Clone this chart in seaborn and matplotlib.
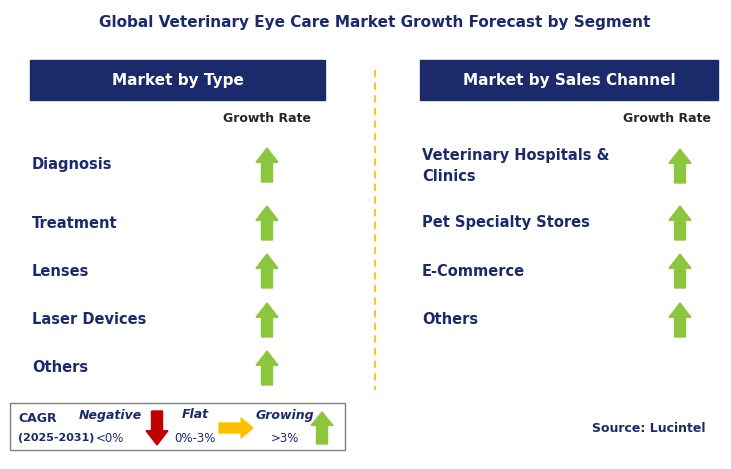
import matplotlib.pyplot as plt
import matplotlib.patches as patches
import seaborn as sns

sns.set_style("white")

NAVY = "#1b2a6b"
GREEN = "#8cc63f"
RED = "#c00000"
YELLOW = "#ffc000"

title = "Global Veterinary Eye Care Market Growth Forecast by Segment"
type_labels = ["Diagnosis", "Treatment", "Lenses", "Laser Devices", "Others"]
type_growth = ["up", "up", "up", "up", "up"]
channel_labels = ["Veterinary Hospitals &\nClinics", "Pet Specialty Stores", "E-Commerce", "Others"]
channel_growth = ["up", "up", "up", "up"]
type_rows = [165, 223, 271, 320, 368]
channel_rows = [166, 223, 271, 320]


def up_arrow(ax, cx, cy, color, w=22, h=34):
    hw, sw = w / 2, w / 4
    pts = [(cx, cy - h / 2), (cx + hw, cy - h / 2 + h * 0.42), (cx + sw, cy - h / 2 + h * 0.42),
           (cx + sw, cy + h / 2), (cx - sw, cy + h / 2), (cx - sw, cy - h / 2 + h * 0.42),
           (cx - hw, cy - h / 2 + h * 0.42)]
    ax.add_patch(patches.Polygon(pts, closed=True, color=color))


def down_arrow(ax, cx, cy, color, w=22, h=34):
    hw, sw = w / 2, w / 4
    pts = [(cx, cy + h / 2), (cx + hw, cy + h / 2 - h * 0.42), (cx + sw, cy + h / 2 - h * 0.42),
           (cx + sw, cy - h / 2), (cx - sw, cy - h / 2), (cx - sw, cy + h / 2 - h * 0.42),
           (cx - hw, cy + h / 2 - h * 0.42)]
    ax.add_patch(patches.Polygon(pts, closed=True, color=color))


def right_arrow(ax, cx, cy, color, w=34, h=20):
    hh, sh = h / 2, h / 4
    pts = [(cx + w / 2, cy), (cx + w / 2 - w * 0.35, cy - hh), (cx + w / 2 - w * 0.35, cy - sh),
           (cx - w / 2, cy - sh), (cx - w / 2, cy + sh), (cx + w / 2 - w * 0.35, cy + sh),
           (cx + w / 2 - w * 0.35, cy + hh)]
    ax.add_patch(patches.Polygon(pts, closed=True, color=color))


fig = plt.figure(figsize=(7.31, 4.69), dpi=100)
ax = fig.add_axes([0, 0, 1, 1])
ax.set_xlim(0, 731)
ax.set_ylim(469, 0)
ax.axis("off")

ax.text(375, 22, title, ha="center", va="center", fontsize=11, fontweight="bold", color=NAVY)

# headers
for x0, x1, label in [(30, 325, "Market by Type"), (420, 718, "Market by Sales Channel")]:
    ax.add_patch(patches.Rectangle((x0, 60), x1 - x0, 40, color=NAVY))
    ax.text((x0 + x1) / 2, 80, label, ha="center", va="center", fontsize=11,
            fontweight="bold", color="white")

ax.plot([375, 375], [70, 390], ls=(0, (4, 3)), color=YELLOW, lw=1.3)

ax.text(267, 118, "Growth Rate", ha="center", va="center", fontsize=9, fontweight="bold")
ax.text(667, 118, "Growth Rate", ha="center", va="center", fontsize=9, fontweight="bold")

for label, g, y in zip(type_labels, type_growth, type_rows):
    ax.text(32, y, label, ha="left", va="center", fontsize=10.5, fontweight="bold", color=NAVY)
    up_arrow(ax, 267, y, GREEN)

for label, g, y in zip(channel_labels, channel_growth, channel_rows):
    ax.text(422, y, label, ha="left", va="center", fontsize=10.5, fontweight="bold",
            color=NAVY, linespacing=1.5)
    up_arrow(ax, 680, y, GREEN)

# legend box
ax.add_patch(patches.Rectangle((10, 403), 335, 47, fill=False, ec="#7f7f7f", lw=1))
ax.text(18, 418, "CAGR", fontsize=9, fontweight="bold", color=NAVY, va="center")
ax.text(18, 438, "(2025-2031)", fontsize=8, fontweight="bold", color=NAVY, va="center")
ax.text(110, 415, "Negative", fontsize=9, fontweight="bold", style="italic", color=NAVY, ha="center", va="center")
ax.text(110, 438, "<0%", fontsize=8.5, color=NAVY, ha="center", va="center")
down_arrow(ax, 157, 428, RED, w=22, h=34)
ax.text(195, 415, "Flat", fontsize=9, fontweight="bold", style="italic", color=NAVY, ha="center", va="center")
ax.text(195, 438, "0%-3%", fontsize=8.5, color=NAVY, ha="center", va="center")
right_arrow(ax, 236, 428, YELLOW)
ax.text(285, 415, "Growing", fontsize=9, fontweight="bold", style="italic", color=NAVY, ha="center", va="center")
ax.text(285, 438, ">3%", fontsize=8.5, color=NAVY, ha="center", va="center")
up_arrow(ax, 322, 428, GREEN, w=22, h=32)

ax.text(705, 428, "Source: Lucintel", ha="right", va="center", fontsize=9, fontweight="bold", color=NAVY)

fig.savefig("out.png", dpi=100)
